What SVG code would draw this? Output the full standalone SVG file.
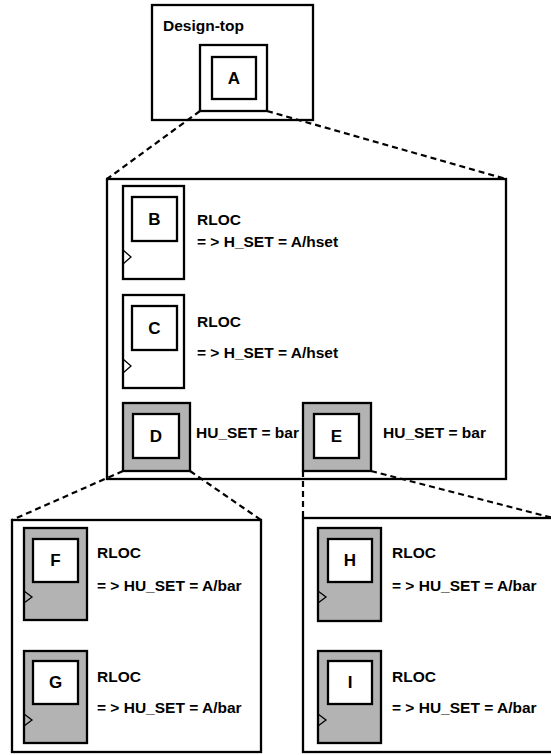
<svg xmlns="http://www.w3.org/2000/svg" width="551" height="755" viewBox="0 0 551 755">
<style>
.box{fill:#fff;stroke:#000;stroke-width:2.3}
.gbox{fill:#b3b3b3;stroke:#000;stroke-width:2.3}
.in{fill:#fff;stroke:#000;stroke-width:2.3}
.clk{fill:none;stroke:#000;stroke-width:1.3}
.dash{fill:none;stroke:#000;stroke-width:2.2;stroke-dasharray:6 4}
text{font-family:"Liberation Sans",Arial,sans-serif;font-weight:bold;font-size:15.5px;fill:#000}
.lt{font-size:17px;text-anchor:middle}
</style>
<rect width="551" height="755" fill="#fff"/>
<g id="design-top">
<rect class="box" x="152" y="5" width="161" height="115"/>
<text x="163" y="31">Design-top</text>
</g>
<g id="A">
<rect class="box" x="200" y="45" width="67" height="66"/>
<rect class="in" x="212" y="57" width="44" height="42"/>
<text class="lt" x="234" y="84">A</text>
</g>
<g id="middle">
<rect class="box" x="107" y="179" width="399" height="300"/>
</g>
<g id="B">
<rect class="box" x="123" y="186" width="61" height="93"/>
<rect class="in" x="132" y="197" width="45" height="44"/>
<polyline class="clk" points="123,250 131,257 123,264"/>
<text class="lt" x="154.5" y="225">B</text>
<text x="197" y="225">RLOC</text>
<text x="197" y="247">= &gt; H_SET = A/hset</text>
</g>
<g id="C">
<rect class="box" x="123" y="295" width="61" height="93"/>
<rect class="in" x="132" y="306" width="45" height="44"/>
<polyline class="clk" points="123,359 131,366 123,373"/>
<text class="lt" x="154.5" y="334">C</text>
<text x="197" y="327">RLOC</text>
<text x="197" y="358">= &gt; H_SET = A/hset</text>
</g>
<g id="D">
<rect class="gbox" x="123" y="403" width="67" height="68"/>
<rect class="in" x="133" y="414" width="46" height="44"/>
<text class="lt" x="156" y="442">D</text>
<text x="196" y="438">HU_SET = bar</text>
</g>
<g id="E">
<rect class="gbox" x="303" y="403" width="68" height="68"/>
<rect class="in" x="314" y="414" width="45" height="44"/>
<text class="lt" x="336.5" y="442">E</text>
<text x="383" y="438">HU_SET = bar</text>
</g>
<g id="left-bottom">
<rect class="box" x="12" y="520" width="249" height="232"/>
</g>
<g id="F">
<rect class="gbox" x="24" y="528" width="63" height="92"/>
<rect class="in" x="33" y="539" width="45" height="43"/>
<polyline class="clk" points="24,591 32,597 24,603"/>
<text class="lt" x="55.5" y="566">F</text>
<text x="97" y="558">RLOC</text>
<text x="97" y="591">= &gt; HU_SET = A/bar</text>
</g>
<g id="G">
<rect class="gbox" x="24" y="651" width="63" height="92"/>
<rect class="in" x="33" y="661" width="45" height="43"/>
<polyline class="clk" points="24,714 32,720 24,726"/>
<text class="lt" x="55.5" y="688">G</text>
<text x="97" y="682">RLOC</text>
<text x="97" y="713">= &gt; HU_SET = A/bar</text>
</g>
<g id="right-bottom">
<rect class="box" x="303" y="518" width="260" height="234"/>
</g>
<g id="H">
<rect class="gbox" x="318" y="528" width="63" height="93"/>
<rect class="in" x="328" y="539" width="44" height="43"/>
<polyline class="clk" points="318,591 326,597 318,603"/>
<text class="lt" x="350" y="566">H</text>
<text x="392" y="558">RLOC</text>
<text x="392" y="591">= &gt; HU_SET = A/bar</text>
</g>
<g id="I">
<rect class="gbox" x="318" y="651" width="63" height="92"/>
<rect class="in" x="328" y="661" width="44" height="43"/>
<polyline class="clk" points="318,714 326,720 318,726"/>
<text class="lt" x="350" y="688">I</text>
<text x="392" y="682">RLOC</text>
<text x="392" y="713">= &gt; HU_SET = A/bar</text>
</g>
<g id="connectors">
<line class="dash" x1="200" y1="111" x2="107" y2="179"/>
<line class="dash" x1="267" y1="111" x2="506" y2="179"/>
<line class="dash" x1="123" y1="471" x2="12" y2="520"/>
<line class="dash" x1="190" y1="471" x2="261" y2="520"/>
<line class="dash" x1="303" y1="471" x2="303" y2="518"/>
<line class="dash" x1="371" y1="471" x2="553" y2="518"/>
</g>
</svg>
